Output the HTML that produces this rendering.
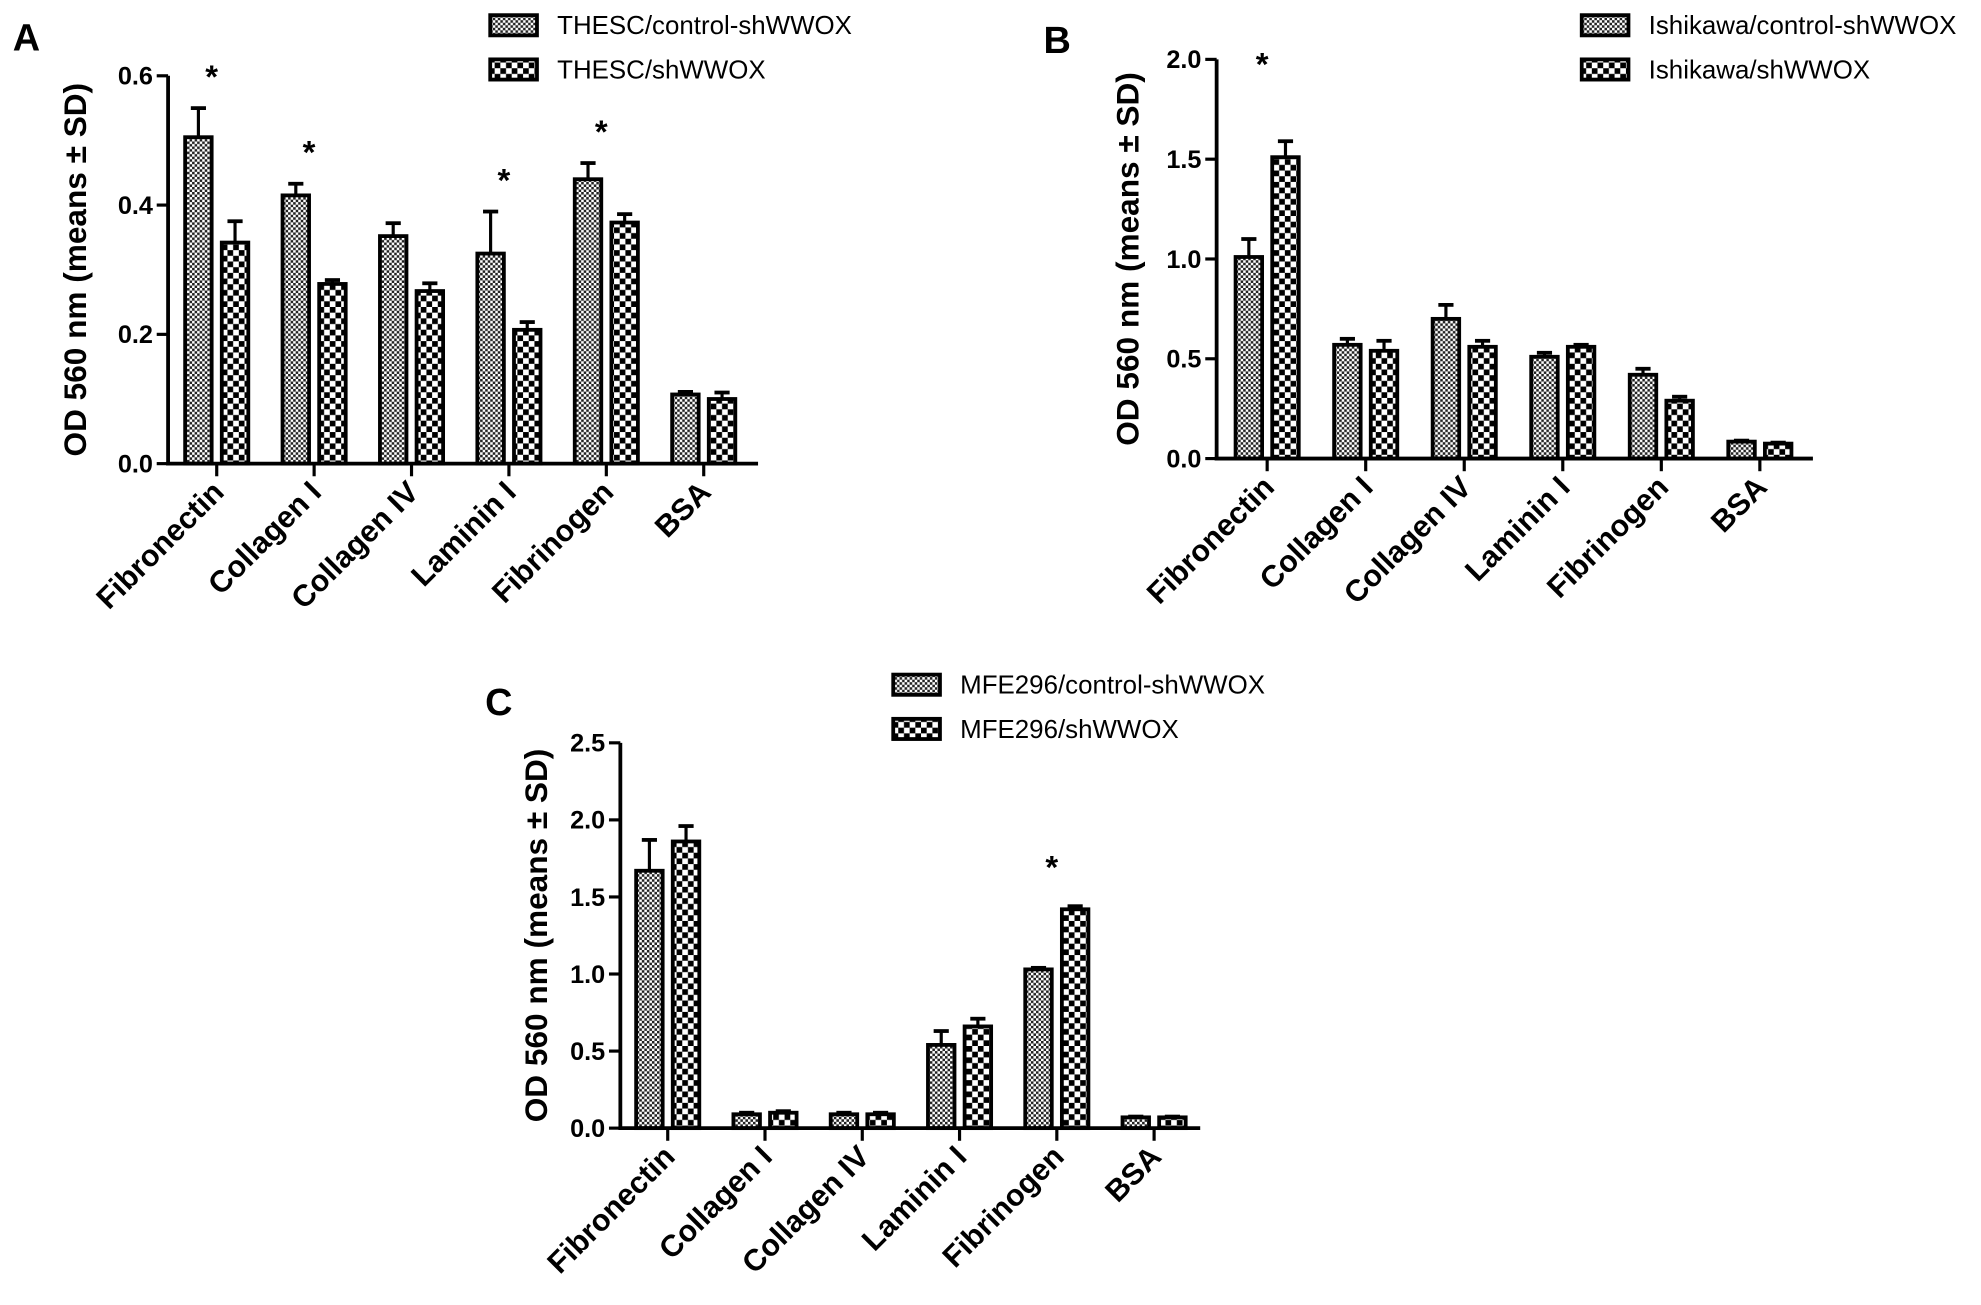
<!DOCTYPE html>
<html><head><meta charset="utf-8"><style>
html,body{margin:0;padding:0;background:#fff}
svg{display:block}
text{font-family:"Liberation Sans",Arial,sans-serif;fill:#000}
</style></head><body>
<svg id="fig" width="1981" height="1305" viewBox="0 0 1568 1033" xmlns="http://www.w3.org/2000/svg">
<defs>
<pattern id="pc" width="4" height="4" patternUnits="userSpaceOnUse"><rect width="4" height="4" fill="#fff"/><rect width="2" height="2" fill="#222"/><rect x="2" y="2" width="2" height="2" fill="#222"/></pattern>
<pattern id="ps" width="9" height="9" patternUnits="userSpaceOnUse"><rect width="9" height="9" fill="#fff"/><rect width="4.5" height="4.5" fill="#000"/><rect x="4.5" y="4.5" width="4.5" height="4.5" fill="#000"/></pattern>
</defs>
</svg>
<script>
const categories=["Fibronectin","Collagen I","Collagen IV","Laminin I","Fibrinogen","BSA"];
const aCtrl=[0.505,0.415,0.352,0.325,0.44,0.107];
const aCtrlErr=[0.045,0.018,0.02,0.065,0.025,0.004];
const aSh=[0.342,0.278,0.267,0.207,0.373,0.1];
const aShErr=[0.033,0.006,0.012,0.012,0.013,0.01];
const aTicks=[0.0,0.2,0.4,0.6];
const aStars=[0,1,3,4];
const bCtrl=[1.01,0.57,0.70,0.51,0.42,0.085];
const bCtrlErr=[0.09,0.03,0.07,0.02,0.03,0.005];
const bSh=[1.51,0.54,0.56,0.56,0.29,0.075];
const bShErr=[0.08,0.05,0.03,0.01,0.02,0.005];
const bTicks=[0.0,0.5,1.0,1.5,2.0];
const bStars=[0];
const cCtrl=[1.67,0.09,0.09,0.54,1.03,0.07];
const cCtrlErr=[0.2,0.01,0.01,0.09,0.01,0.005];
const cSh=[1.86,0.1,0.09,0.66,1.42,0.07];
const cShErr=[0.1,0.01,0.01,0.05,0.02,0.005];
const cTicks=[0.0,0.5,1.0,1.5,2.0,2.5];
const cStars=[4];

const svg=document.getElementById('fig');
const NS='http://www.w3.org/2000/svg';
function mk(tag,attrs,parent){const e=document.createElementNS(NS,tag);for(const k in attrs)e.setAttribute(k,attrs[k]);(parent||svg).appendChild(e);return e;}

function panel(o){
  const g=mk('g',{});
  
  
  const y=v=>o.y0-(v/o.ymax)*(o.y0-o.ytop);
  const x=i=>o.x0+o.first+i*o.step;
  const bw=21, gap=29;
  const lt=mk('text',{x:o.lx,y:o.ly,'font-size':30,'font-weight':'bold'},g);lt.textContent=o.id;
  
  
  function bar(cx,v,e,fill,nm){
    const top=y(v), et=y(v+e);
    mk('line',{x1:cx,x2:cx,y1:top,y2:et,stroke:'#000','stroke-width':2.5},g);
    mk('line',{x1:cx-6,x2:cx+6,y1:et,y2:et,stroke:'#000','stroke-width':3},g);
    const r=mk('rect',{x:cx-bw/2,y:top,width:bw,height:o.y0-top,fill:fill,stroke:'#000','stroke-width':3},g);
    
    
  }
  categories.forEach((c,i)=>{
    const cx=x(i);
    bar(cx-gap/2,o.ctrl[i],o.ctrlErr[i],'url(#pc)','bar-control-'+i);
    bar(cx+gap/2,o.sh[i],o.shErr[i],'url(#ps)','bar-shwwox-'+i);
    mk('line',{x1:cx,x2:cx,y1:o.y0,y2:o.y0+10,stroke:'#000','stroke-width':2.5},g);
    const t=mk('text',{x:0,y:0,'font-size':24,'font-weight':'bold','text-anchor':'end',transform:`translate(${cx+7},${o.y0+24}) rotate(-45)`},g);
    t.textContent=c;
    
    
  });
  o.stars.forEach(i=>{
    const v=Math.max(o.ctrl[i]+o.ctrlErr[i],o.sh[i]+o.shErr[i]);
    const s=mk('text',{x:x(i)-4,y:y(v)-o.starOff,'font-size':26,'font-weight':'bold','text-anchor':'middle'},g);
    s.textContent='*';
    
    
  });
  const ya=mk('line',{x1:o.x0,x2:o.x0,y1:y(o.ymax),y2:o.y0+1.5,stroke:'#000','stroke-width':3},g);
  
  
  const xa=mk('line',{x1:o.x0-1.5,x2:o.xend,y1:o.y0,y2:o.y0,stroke:'#000','stroke-width':3},g);
  
  
  o.ticks.forEach(v=>{
    mk('line',{x1:o.x0-9,x2:o.x0,y1:y(v),y2:y(v),stroke:'#000','stroke-width':2.5},g);
    const t=mk('text',{x:o.x0-12,y:y(v)+7,'font-size':20,'font-weight':'bold','text-anchor':'end'},g);
    t.textContent=v.toFixed(1);
    
    
  });
  const yt=mk('text',{x:0,y:0,'font-size':25,'font-weight':'bold','text-anchor':'middle',transform:`translate(${o.ylx},${(o.y0+y(o.ymax))/2}) rotate(-90)`},g);
  yt.textContent='OD 560 nm (means ± SD)';
  
  
  [['url(#pc)',o.leg[0]],['url(#ps)',o.leg[1]]].forEach((l,k)=>{
    const yy=o.legY+k*35;
    const sw=mk('rect',{x:o.legX,y:yy-8,width:37,height:16,fill:l[0],stroke:'#000','stroke-width':3},g);
    
    
    const t=mk('text',{x:o.legX+53,y:yy+7,'font-size':20.5},g);
    t.textContent=l[1];
    
    
  });
}
panel({id:'A',lx:10,ly:40,x0:133,xend:600,y0:367,ytop:60,ymax:0.6,first:38.5,step:77.1,ctrl:aCtrl,ctrlErr:aCtrlErr,sh:aSh,shErr:aShErr,ticks:aTicks,stars:aStars,starOff:16,ylx:68,legX:388,legY:20,leg:['THESC/control-shWWOX','THESC/shWWOX']});
panel({id:'B',lx:826,ly:42,x0:963,xend:1435,y0:363,ytop:47,ymax:2.0,first:40,step:78,ctrl:bCtrl,ctrlErr:bCtrlErr,sh:bSh,shErr:bShErr,ticks:bTicks,stars:bStars,starOff:52,ylx:901,legX:1252,legY:20,leg:['Ishikawa/control-shWWOX','Ishikawa/shWWOX']});
panel({id:'C',lx:384,ly:566,x0:491,xend:950,y0:893,ytop:588,ymax:2.5,first:37.5,step:77,ctrl:cCtrl,ctrlErr:cCtrlErr,sh:cSh,shErr:cShErr,ticks:cTicks,stars:cStars,starOff:22,ylx:433,legX:707,legY:542,leg:['MFE296/control-shWWOX','MFE296/shWWOX']});
</script>
</body></html>
